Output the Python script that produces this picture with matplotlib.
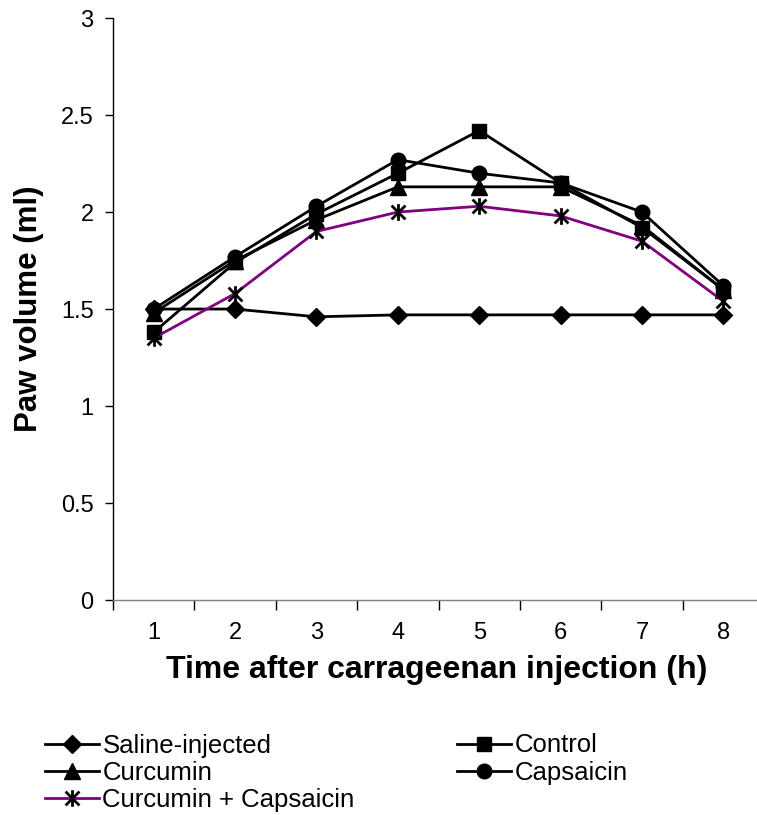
import matplotlib
matplotlib.use("Agg")
import matplotlib.pyplot as plt
from matplotlib.path import Path

plt.rcParams['font.family'] = ['Liberation Sans', 'DejaVu Sans']

hours = [1, 2, 3, 4, 5, 6, 7, 8]
saline = [1.50, 1.50, 1.46, 1.47, 1.47, 1.47, 1.47, 1.47]
control = [1.38, 1.74, 1.99, 2.20, 2.42, 2.15, 1.92, 1.60]
curcumin = [1.48, 1.75, 1.96, 2.13, 2.13, 2.13, 1.93, 1.60]
capsaicin = [1.50, 1.77, 2.03, 2.27, 2.20, 2.15, 2.00, 1.62]
combo = [1.35, 1.58, 1.90, 2.00, 2.03, 1.98, 1.85, 1.54]

# asterisk marker: an x with a vertical bar through it
star = Path([(-1, -1), (1, 1), (-1, 1), (1, -1), (0, -1.2), (0, 1.2)],
            [Path.MOVETO, Path.LINETO, Path.MOVETO, Path.LINETO, Path.MOVETO, Path.LINETO])

fig = plt.figure(figsize=(7.57, 8.15), dpi=100)
ax = fig.add_axes([0.1493, 0.2638, 0.86, 0.714])

lw = 2.0
l_sal, = ax.plot(hours, saline, color='black', lw=lw, marker='D', ms=9, label='Saline-injected')
l_con, = ax.plot(hours, control, color='black', lw=lw, marker='s', ms=10.5, label='Control')
l_cur, = ax.plot(hours, curcumin, color='black', lw=lw, marker='^', ms=11, label='Curcumin')
l_cap, = ax.plot(hours, capsaicin, color='black', lw=lw, marker='o', ms=10.5, label='Capsaicin')
l_cc, = ax.plot(hours, combo, color='#800080', lw=lw, marker=star, ms=12,
                mec='black', mew=2.0, label='Curcumin + Capsaicin')

ax.set_xlim(0.5, 8.5)
ax.set_ylim(0, 3)
ax.set_yticks([0, 0.5, 1, 1.5, 2, 2.5, 3])
ax.set_yticklabels(['0', '0.5', '1', '1.5', '2', '2.5', '3'])
ax.set_xticks([h + 0.5 for h in [0] + hours])
ax.set_xticks(hours, minor=True)
ax.set_xticklabels([''] * 9)
ax.set_xticklabels([str(h) for h in hours], minor=True)
ax.tick_params(axis='x', which='major', length=7, width=1, direction='out')
ax.tick_params(axis='x', which='minor', length=0, pad=16, labelsize=17)
ax.tick_params(axis='y', length=6, width=1, direction='out', pad=8, labelsize=17)
for s in ['top', 'right']:
    ax.spines[s].set_visible(False)
ax.spines['left'].set_linewidth(1)
ax.spines['bottom'].set_color('#808080')
ax.spines['bottom'].set_linewidth(1)

ax.set_xlabel('Time after carrageenan injection (h)', fontsize=23, fontweight='bold')
ax.set_ylabel('Paw volume (ml)', fontsize=22.5, fontweight='bold', labelpad=12)
ax.xaxis.set_label_coords((437 - 113) / 651, -0.095)

handles = [l_sal, l_cur, l_cc, l_con, l_cap]
fig.legend(handles=handles, labels=[h.get_label() for h in handles], ncol=2,
           loc='upper left', bbox_to_anchor=(0.06, 0.1), frameon=False,
           fontsize=18.5, handlelength=2.1, handletextpad=0.12, columnspacing=4.0,
           labelspacing=0.13, borderaxespad=0, borderpad=0)

fig.savefig('out.png', dpi=100)
